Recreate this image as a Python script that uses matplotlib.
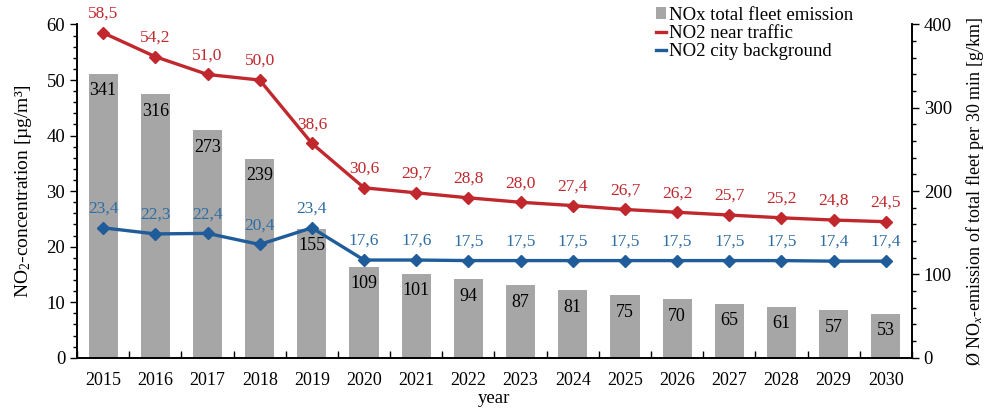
import numpy as np
import matplotlib.pyplot as plt
from matplotlib.ticker import MultipleLocator
from matplotlib.lines import Line2D
from matplotlib.patches import Patch

plt.rcParams['font.family'] = ['Liberation Serif', 'DejaVu Serif']
plt.rcParams['mathtext.fontset'] = 'custom'
plt.rcParams['mathtext.rm'] = 'Liberation Serif'
plt.rcParams['mathtext.it'] = 'Liberation Serif:italic'

# data
years = ['2015', '2016', '2017', '2018', '2019', '2020', '2021', '2022',
         '2023', '2024', '2025', '2026', '2027', '2028', '2029', '2030']
nox_emission = [341, 316, 273, 239, 155, 109, 101, 94, 87, 81, 75, 70, 65, 61, 57, 53]
no2_traffic = [58.5, 54.2, 51.0, 50.0, 38.6, 30.6, 29.7, 28.8, 28.0, 27.4,
               26.7, 26.2, 25.7, 25.2, 24.8, 24.5]
no2_background = [23.4, 22.3, 22.4, 20.4, 23.4, 17.6, 17.6, 17.5, 17.5, 17.5,
                  17.5, 17.5, 17.5, 17.5, 17.4, 17.4]

red = '#C0282D'
blue = '#1F5C99'
blue_txt = '#2E6DA4'
grey = '#A6A6A6'

x = np.arange(len(years))

fig, ax = plt.subplots(figsize=(9.88, 4.08), dpi=100)
ax2 = ax.twinx()

# bars on the right axis
ax2.bar(x, nox_emission, width=0.56, color=grey)
for xi, v in zip(x, nox_emission):
    ax2.annotate(str(v), (xi, v), xytext=(0, -6), textcoords='offset points',
                 ha='center', va='top', fontsize=13, color='black')

# lines on the left axis
ax.plot(x, no2_traffic, color=red, lw=2.4, marker='D', ms=6)
ax.plot(x, no2_background, color=blue, lw=2.4, marker='D', ms=6)
for xi, v in zip(x, no2_traffic):
    ax.annotate(f'{v:.1f}'.replace('.', ','), (xi, v), xytext=(0, 8), textcoords='offset points',
                ha='center', va='bottom', fontsize=12.5, color=red)
for xi, v in zip(x, no2_background):
    ax.annotate(f'{v:.1f}'.replace('.', ','), (xi, v), xytext=(0, 8), textcoords='offset points',
                ha='center', va='bottom', fontsize=12.5, color=blue_txt)

ax.set_zorder(ax2.get_zorder() + 1)
ax.patch.set_visible(False)

ax.set_xlim(-0.5, len(years) - 0.5)
ax.set_ylim(0, 60)
ax2.set_ylim(0, 400)
ax.yaxis.set_major_locator(MultipleLocator(10))
ax.yaxis.set_minor_locator(MultipleLocator(2))
ax2.yaxis.set_major_locator(MultipleLocator(100))
ax2.yaxis.set_minor_locator(MultipleLocator(20))

# ticks between categories, labels centered
ax.set_xticks(np.arange(-0.5, len(years), 1))
ax.set_xticklabels([])
ax.set_xticks(x, minor=True)
ax.set_xticklabels(years, minor=True)
ax.tick_params(axis='x', which='minor', length=0, pad=10, labelsize=13)
ax.tick_params(axis='x', which='major', length=5, direction='in', width=1)
ax.tick_params(axis='y', which='major', length=5, width=1, labelsize=13.5)
ax.tick_params(axis='y', which='minor', length=3, width=1)
ax2.tick_params(axis='y', which='major', length=5, width=1, labelsize=13.5)
ax2.tick_params(axis='y', which='minor', length=3, width=1)

for a in (ax, ax2):
    a.spines['top'].set_visible(False)
    for s in ('left', 'right', 'bottom'):
        a.spines[s].set_linewidth(1.2)

ax.set_xlabel('year', fontsize=13.5, labelpad=1)
ax.set_ylabel('NO$_2$-concentration [µg/m³]', fontsize=14, labelpad=9)
ax2.set_ylabel('Ø NO$_x$-emission of total fleet per 30 min [g/km]', fontsize=13, labelpad=9)

handles = [Patch(facecolor=grey, edgecolor='none'),
           Line2D([], [], color=red, lw=2.4),
           Line2D([], [], color=blue, lw=2.4)]
labels = ['NOx total fleet emission', 'NO2 near traffic', 'NO2 city background']
ax.legend(handles, labels, loc='upper left', bbox_to_anchor=(0.685, 1.075),
          frameon=False, fontsize=13.5, handlelength=0.5, handleheight=0.6,
          handletextpad=0.15, labelspacing=0.05, borderaxespad=0)

fig.subplots_adjust(left=0.078, right=0.923, top=0.94, bottom=0.123)
fig.savefig('out.png', dpi=100)
